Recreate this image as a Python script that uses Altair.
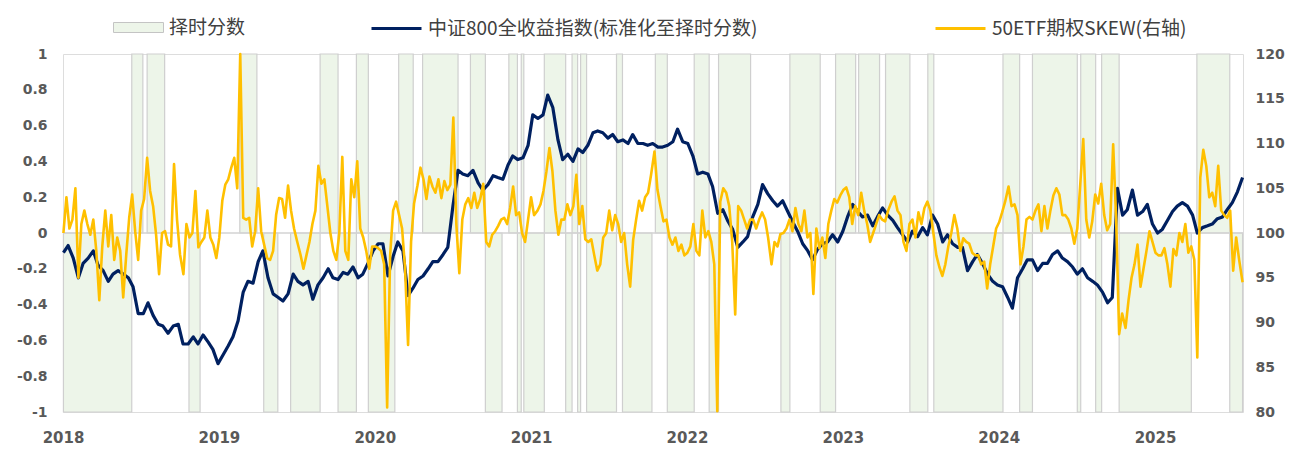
import altair as alt
import pandas as pd

# ---------------- data ----------------
NAME_SCORE = "择时分数"
NAME_CSI = "中证800全收益指数(标准化至择时分数)"
NAME_SKEW = "50ETF期权SKEW(右轴)"

score_start = [
    "2018-01-02", "2018-06-11", "2018-07-17", "2018-10-23", "2019-02-19", "2019-04-16",
    "2019-06-18", "2019-08-26", "2019-10-07", "2019-11-19", "2019-12-17", "2020-02-26",
    "2020-04-22", "2020-08-12", "2020-09-16", "2020-11-10", "2020-11-30", "2020-12-09",
    "2020-12-15", "2021-02-01", "2021-03-23", "2021-04-07", "2021-04-20", "2021-04-27",
    "2021-05-11", "2021-07-20", "2021-08-03", "2021-10-19", "2021-11-16", "2022-01-18",
    "2022-02-22", "2022-03-16", "2022-08-09", "2022-08-30", "2022-11-09", "2022-12-15",
    "2023-02-07", "2023-04-11", "2023-06-07", "2023-07-19", "2023-08-02", "2024-01-11",
    "2024-02-19", "2024-03-20", "2024-07-03", "2024-07-11", "2024-08-15", "2024-08-29",
    "2024-10-09", "2025-04-09", "2025-06-25",
]
score_end = [
    "2018-06-11", "2018-07-07", "2018-08-27", "2018-11-18", "2019-03-31", "2019-05-19",
    "2019-08-26", "2019-10-07", "2019-11-19", "2019-12-17", "2020-02-17", "2020-03-31",
    "2020-07-14", "2020-09-16", "2020-10-25", "2020-11-30", "2020-12-09", "2020-12-15",
    "2021-02-01", "2021-03-23", "2021-04-07", "2021-04-20", "2021-04-27", "2021-05-11",
    "2021-07-20", "2021-08-03", "2021-10-11", "2021-11-16", "2022-01-18", "2022-02-22",
    "2022-03-16", "2022-05-30", "2022-08-30", "2022-11-09", "2022-12-15", "2023-01-31",
    "2023-03-28", "2023-06-07", "2023-07-19", "2023-08-02", "2024-01-11", "2024-02-19",
    "2024-03-20", "2024-07-03", "2024-07-11", "2024-08-15", "2024-08-29", "2024-10-09",
    "2025-03-27", "2025-06-25", "2025-07-25",
]
score_val = [
    -1, 1, 1, -1, 1, -1,
    -1, 1, -1, 1, -1, 1,
    1, 1, -1, 1, -1, 1,
    -1, 1, -1, 1, -1, 1,
    -1, 1, -1, 1, -1, 1,
    -1, 1, -1, 1, -1, 1,
    1, 1, -1, 1, -1, 1,
    -1, 1, -1, 1, -1, 1,
    -1, 1, -1,
]

csi_vals = [
    -0.11, -0.07, -0.14, -0.25, -0.17, -0.14, -0.10, -0.18, -0.21, -0.27, -0.23, -0.21, -0.23, -0.25,
    -0.30, -0.45, -0.45, -0.39, -0.46, -0.51, -0.52, -0.56, -0.52, -0.51, -0.62, -0.62, -0.58, -0.62,
    -0.57, -0.61, -0.65, -0.73, -0.68, -0.63, -0.58, -0.49, -0.33, -0.27, -0.28, -0.16, -0.10, -0.25,
    -0.34, -0.36, -0.38, -0.34, -0.23, -0.27, -0.29, -0.27, -0.37, -0.29, -0.25, -0.20, -0.25, -0.26,
    -0.22, -0.23, -0.19, -0.25, -0.23, -0.17, -0.10, -0.06, -0.06, -0.24, -0.13, -0.05, -0.10, -0.35,
    -0.31, -0.26, -0.24, -0.20, -0.16, -0.16, -0.12, -0.08, 0.15, 0.35, 0.33, 0.32, 0.35, 0.28,
    0.24, 0.27, 0.32, 0.31, 0.30, 0.38, 0.43, 0.41, 0.42, 0.49, 0.66, 0.64, 0.66, 0.77,
    0.70, 0.52, 0.41, 0.44, 0.40, 0.47, 0.45, 0.49, 0.56, 0.57, 0.56, 0.53, 0.55, 0.51,
    0.52, 0.50, 0.55, 0.50, 0.50, 0.49, 0.50, 0.48, 0.48, 0.49, 0.51, 0.58, 0.51, 0.50,
    0.43, 0.33, 0.34, 0.33, 0.26, 0.11, 0.13, 0.07, 0.02, -0.08, -0.05, -0.02, 0.09, 0.16,
    0.27, 0.22, 0.18, 0.15, 0.18, 0.12, 0.06, 0.01, -0.06, -0.10, -0.15, -0.09, -0.06, -0.05,
    -0.01, -0.05, 0.01, 0.09, 0.16, 0.12, 0.09, 0.10, 0.04, 0.09, 0.14, 0.10, 0.07, 0.03,
    -0.01, -0.05, 0.01, -0.02, 0.03, -0.01, 0.10, 0.05, -0.05, -0.01, -0.06, -0.08, -0.08, -0.21,
    -0.16, -0.12, -0.17, -0.23, -0.27, -0.29, -0.30, -0.36, -0.42, -0.25, -0.20, -0.15, -0.15, -0.21,
    -0.17, -0.17, -0.12, -0.10, -0.14, -0.16, -0.19, -0.23, -0.20, -0.25, -0.27, -0.29, -0.33, -0.39,
    -0.36, 0.25, 0.10, 0.13, 0.24, 0.10, 0.12, 0.16, 0.05, 0.00, 0.02, 0.07, 0.12, 0.15,
    0.17, 0.15, 0.10, 0.00, 0.03, 0.04, 0.05, 0.08, 0.09, 0.13, 0.17, 0.23, 0.31,
]

skew_vals = [
    100, 104, 100.5, 101.5, 105, 95, 101, 102.5, 101, 99.8,
    101.5, 98, 92.5, 98.5, 102.5, 98.5, 102, 97, 99.5, 98,
    92.8, 97.5, 101.7, 104.3, 100.2, 97, 102.5, 103.8, 108.4, 104.7,
    103, 99.8, 95.4, 100, 100.2, 98.7, 98.5, 107.7, 101.5, 97.6,
    95.4, 101, 99.5, 100, 104.7, 98.4, 99, 99.5, 102.5, 99.5,
    98.7, 97.2, 99.5, 103.6, 105.4, 106, 107.3, 108.4, 105, 120,
    101.7, 101.5, 101.7, 98.5, 100.2, 105, 100.2, 98.7, 97.2, 97,
    98, 102, 103.9, 103.8, 101.7, 105.3, 102.5, 100.5, 99.1, 97.6,
    96, 97.5, 99, 101, 102.5, 107.5, 105.5, 106, 103, 100,
    98, 97, 100, 108.5, 98, 97, 106, 104, 108, 100.5,
    99.5, 98, 96, 98.5, 98.5, 98.3, 98, 96.5, 80.5, 97.5,
    102.5, 103.5, 102, 100.5, 96, 87.5, 99, 103.3, 105.3, 107.3,
    106, 103.8, 106.3, 105.2, 104.5, 106, 103.9, 105.8, 104.8, 105.4,
    112.9, 101, 95.5, 101.5, 103.2, 103.9, 102.8, 104.5, 102.8, 103.8,
    105.5, 99, 98.5, 99.8, 100.2, 100.8, 101.5, 101.7, 101, 102.8,
    105.2, 102, 102.3, 100, 99, 101.5, 104, 102, 102.5, 103.2,
    104.7, 106.9, 109.5, 106.9, 102.5, 99.8, 101.5, 101.5, 103.2, 102,
    103, 106.5, 101, 103, 99.3, 99, 99.3, 97.5, 95.8, 96.5,
    99.5, 100, 102.5, 100.3, 102, 101, 99, 100, 96.5, 94,
    99.2, 101.5, 103.6, 102.5, 104, 104.5, 106.5, 109.1, 104.8, 103,
    101.3, 101.5, 99.5, 98.7, 99.5, 98, 98.7, 97.5, 97.8, 98.5,
    101, 98, 97.5, 102.5, 99.5, 100.2, 99, 96.5, 80.1, 103.5,
    105, 104.5, 103, 99, 90.9, 103, 102.5, 101.5, 100.5, 101.5,
    101.5, 100.5, 101.5, 102.3, 101.5, 99.5, 96.5, 99, 98.5, 99.9,
    100, 100.5, 101.5, 100.2, 102.8, 101, 100.2, 102.5, 99.5, 100,
    93.2, 100.5, 98.3, 99.5, 97.2, 101, 102.5, 103.8, 103.4, 104.2,
    104.8, 105.1, 104, 101, 103, 102, 104.5, 102.5, 101, 99,
    100, 101, 102, 101.5, 101.3, 102.5, 103.5, 104.1, 102.5, 102,
    99, 98, 101, 101.5, 99.5, 102.3, 101, 102.8, 103.5, 102.5,
    100, 97.5, 96.2, 95.2, 96.5, 98.5, 100, 102, 100.5, 98,
    99.4, 99, 98.8, 97.8, 97.5, 97.5, 96.5, 96.8, 93.8, 96.5,
    98.5, 100.5, 101.2, 102.3, 103.5, 105.2, 103, 103.2, 102, 96.5,
    98.5, 101.5, 101.8, 101.5, 102.5, 103.2, 100.2, 103, 100.5, 102.5,
    104.2, 105, 104.3, 102, 102, 101.5, 100.5, 98.8, 100.5, 105.5,
    110.5, 101.5, 99.5, 101.3, 104.3, 103.3, 105.5, 102, 100.3, 101,
    109.9, 101.5, 88.7, 91, 89.4, 92.5, 95, 96.5, 98.7, 94,
    96, 98, 100.2, 99, 97.8, 97.5, 97.5, 98.3, 96.5, 94,
    98.2, 97.5, 100, 99, 101, 97.8, 98.5, 97, 86.1, 106.2,
    109.3, 107.5, 104, 104.5, 103, 107.5, 102.5, 102, 101.7, 102.5,
    95.8, 99.5, 97, 94.5,
]

left_ticks = [-1, -0.8, -0.6, -0.4, -0.2, 0, 0.2, 0.4, 0.6, 0.8, 1]
right_ticks = [80, 85, 90, 95, 100, 105, 110, 115, 120]

START, END = "2018-01-02", "2025-07-25"

# ---------------- frames ----------------
score_df = pd.DataFrame({"start": score_start, "end": score_end, "score": score_val})
score_df["base"] = 0
score_df["name"] = NAME_SCORE

csi_df = pd.DataFrame({
    "date": pd.date_range(START, END, periods=len(csi_vals)).strftime("%Y-%m-%d"),
    "v": csi_vals,
})
csi_df["name"] = NAME_CSI

skew_df = pd.DataFrame({
    "date": pd.date_range(START, END, periods=len(skew_vals)).strftime("%Y-%m-%d"),
    "v": skew_vals,
})
skew_df["name"] = NAME_SKEW

# ---------------- styles ----------------
GREEN = "#EDF5E9"
GRID_GRAY = "#D3D3D3"
NAVY = "#002060"
GOLD = "#FFC000"
LABEL = "#595959"
NUM_FONT = "DejaVu Sans"
CJK_FONT = "Noto Sans CJK SC"

x_scale = alt.Scale(domain=[alt.DateTime(year=2018, month=1, date=1),
                            alt.DateTime(year=2025, month=7, date=26)])
x_axis = alt.Axis(format="%Y", tickCount={"interval": "year", "step": 1}, labelFlush=False,
                  grid=False, ticks=False, domain=False, title=None,
                  labelFont=NUM_FONT, labelFontSize=15, labelFontWeight="bold",
                  labelColor=LABEL, labelPadding=18)

y_left_scale = alt.Scale(domain=[-1, 1], nice=False, zero=False)
y_left_axis = alt.Axis(values=left_ticks, grid=False, ticks=False, domain=False, title=None,
                       labelExpr="replace(format(datum.value, '.1~f'), '\u2212', '-')",
                       labelFont=NUM_FONT, labelFontSize=14, labelFontWeight="bold",
                       labelColor=LABEL, labelPadding=16)

y_right_scale = alt.Scale(domain=[80, 120], nice=False, zero=False)
y_right_axis = alt.Axis(orient="right", values=right_ticks, grid=False, ticks=False,
                        domain=False, title=None,
                        labelFont=NUM_FONT, labelFontSize=14, labelFontWeight="bold",
                        labelColor=LABEL, labelPadding=12)


def legend(x):
    return dict(orient="none", legendX=x, legendY=-52, title=None,
                labelFont=CJK_FONT, labelFontSize=19, labelColor="#404040",
                labelOffset=5, labelLimit=0)


bars = alt.Chart(score_df).mark_rect(stroke="#CFCFCF", strokeWidth=1.2).encode(
    x=alt.X("start:T", scale=x_scale, axis=x_axis),
    x2="end:T",
    y=alt.Y("score:Q", scale=y_left_scale, axis=y_left_axis),
    y2="base:Q",
    fill=alt.Fill("name:N", scale=alt.Scale(domain=[NAME_SCORE], range=[GREEN]),
                  legend=alt.Legend(symbolType="M-1,-0.2H1V0.2H-1Z", symbolSize=2500,
                                    symbolStrokeColor="#C4C4C4", symbolStrokeWidth=1,
                                    symbolOpacity=1, **legend(50))),
)

zero = alt.Chart(pd.DataFrame({"z": [0]})).mark_rule(color=GRID_GRAY, strokeWidth=1.5).encode(
    y=alt.Y("z:Q", scale=y_left_scale, axis=y_left_axis)
)

navy = alt.Chart(csi_df).mark_line(strokeWidth=3.2, strokeJoin="round").encode(
    x=alt.X("date:T", scale=x_scale, axis=x_axis),
    y=alt.Y("v:Q", scale=y_left_scale, axis=y_left_axis),
    stroke=alt.Stroke("name:N", scale=alt.Scale(domain=[NAME_CSI], range=[NAVY]),
                      legend=alt.Legend(symbolType="stroke", symbolSize=2500,
                                        symbolStrokeWidth=3, **legend(307))),
)

gold = alt.Chart(skew_df).mark_line(strokeWidth=2.6, strokeJoin="round").encode(
    x=alt.X("date:T", scale=x_scale, axis=x_axis),
    y=alt.Y("v:Q", scale=y_right_scale, axis=y_right_axis),
    stroke=alt.Stroke("name:N", scale=alt.Scale(domain=[NAME_SKEW], range=[GOLD]),
                      legend=alt.Legend(symbolType="stroke", symbolSize=2500,
                                        symbolStrokeWidth=3, **legend(871))),
)

left = alt.layer(bars, zero, navy)
chart = (
    alt.layer(left, gold)
    .resolve_scale(y="independent", stroke="independent")
    .resolve_legend(stroke="independent")
    .properties(width=1180, height=358,
                autosize=alt.AutoSizeParams(type="none"),
                padding={"left": 55, "top": 46, "right": 48, "bottom": 38})
    .configure_view(stroke=None)
    .configure(background="white")
)

chart.save("out.html", embed_options={"renderer": "svg", "actions": False})
